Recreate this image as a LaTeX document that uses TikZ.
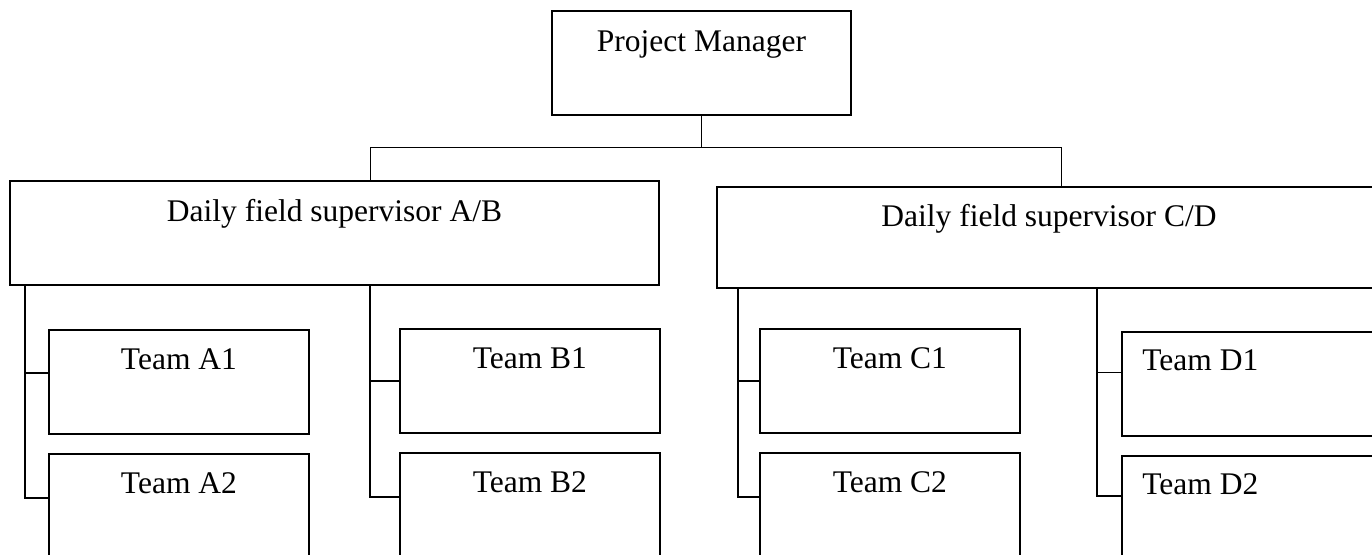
\documentclass[tikz,border=0pt]{standalone}
\usepackage{fontspec}
\setmainfont{Liberation Serif}
\usetikzlibrary{calc}

\begin{document}
\begin{tikzpicture}[
    x=0.5pt, y=-0.5pt,
    box/.style={draw, line width=0.9pt, inner sep=0pt},
    boxsize/.style 2 args={minimum width=#1*0.5pt, minimum height=#2*0.5pt},
    boxtext/.style={font=\fontsize{15.75}{18}\selectfont, inner sep=0pt, anchor=base},
    link/.style={line width=0.65pt},
    thin link/.style={line width=0.5pt}
  ]
  \useasboundingbox (0,0) rectangle (1372,555);
  \clip (0,0) rectangle (1372,555);

  \def\TeamW{260}
  \def\TeamH{104}

  % Manager
  \node[box, boxsize={299}{104}] (pm) at (701.5,63) {};
  \node[boxtext] (pm-t) at ([yshift=-20.5pt]pm.north) {Project Manager};

  % Supervisors
  \node[box, boxsize={649}{104}] (supAB) at (334.5,233) {};
  \node[boxtext] (supAB-t) at ([yshift=-20.5pt]supAB.north) {Daily field supervisor A/B};
  \node[box, boxsize={664}{101}] (supCD) at (1049,237.5) {};
  \node[boxtext] (supCD-t) at ([yshift=-20pt]supCD.north) {Daily field supervisor C/D};

  % Teams
  \foreach \t/\x/\y in {A1/48/329, A2/48/453, B1/399/328, B2/399/452,
                        C1/759/328, C2/759/452, D1/1121/331, D2/1121/455} {
    \node[box, boxsize={\TeamW}{\TeamH}, anchor=north west] (team\t) at (\x,\y) {};
  }
  \foreach \t in {A1, A2, B1, B2, C1, C2} {
    \node[boxtext] (team\t-t) at ([yshift=-20.5pt]team\t.north) {Team \t};
  }
  \foreach \t in {D1, D2} {
    \node[boxtext, anchor=base west] (team\t-t) at ([xshift=10.5pt, yshift=-20pt]team\t.north west) {Team \t};
  }

  % Manager to supervisors
  \coordinate (barL) at (370,148);
  \coordinate (barR) at (1061,148);
  \draw[thin link] (pm.south) -- (pm.south |- barL);
  \draw[thin link] (supAB.north -| barL) -- (barL) -- (barR) -- (barR |- supCD.north);

  % Supervisors to teams
  \coordinate (trunkA) at (25,285);
  \coordinate (trunkB) at (370,285);
  \coordinate (trunkC) at (738,288);
  \coordinate (trunkD) at (1097,288);
  \foreach \t/\trunk/\dy in {A1/trunkA/4.5, A2/trunkA/4, B1/trunkB/0, B2/trunkB/4,
                             C1/trunkC/0, C2/trunkC/4, D1/trunkD/5.75, D2/trunkD/6} {
    \draw[link] (\trunk) |- ([yshift=\dy pt]team\t.west);
  }
\end{tikzpicture}
\end{document}
